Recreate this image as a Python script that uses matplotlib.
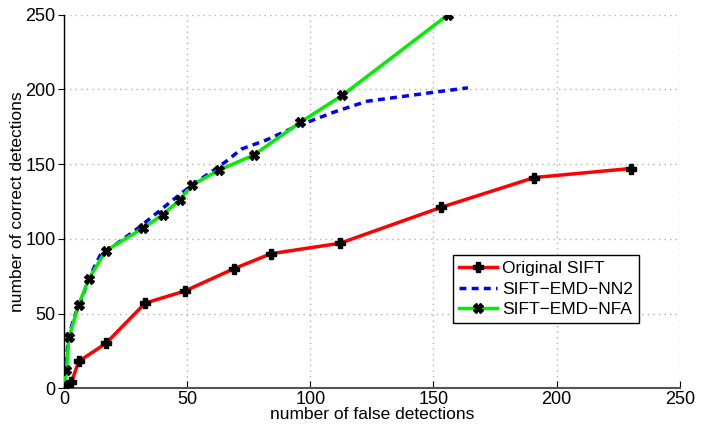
import matplotlib
matplotlib.use("Agg")
import matplotlib.pyplot as plt

plt.rcParams['font.family'] = ['Liberation Sans', 'DejaVu Sans']

red_x = [0, 3, 6, 17, 33, 49, 69, 84, 112, 153, 191, 230]
red_y = [2, 4, 18, 30, 57, 65, 80, 90, 97, 121, 141, 147]

blue_x = [0, 1, 2, 4, 6, 9, 12, 15, 20, 30, 36, 45, 52, 60, 66, 72, 82, 94, 110, 123, 150, 164]
blue_y = [0, 20, 35, 47, 55, 68, 80, 90, 95, 107, 115, 127, 136, 145, 152, 160, 166, 175, 185, 192, 198, 201]

green_x = [0, 1, 2, 6, 10, 17, 32, 40, 47, 52, 63, 77, 96, 113, 156]
green_y = [2, 12, 34, 56, 73, 92, 107, 116, 126, 136, 146, 156, 178, 196, 250]

labels = ['Original SIFT', 'SIFT\u2212EMD\u2212NN2', 'SIFT\u2212EMD\u2212NFA']
xticks = [0, 50, 100, 150, 200, 250]
yticks = [0, 50, 100, 150, 200, 250]

fig = plt.figure(figsize=(7.03, 4.29), dpi=100)
ax = fig.add_axes([0.091, 0.095, 0.876, 0.871])

ax.plot(red_x, red_y, color='#ff0000', lw=2.5, marker='P', ms=6.5,
        mfc='black', mec='black', label=labels[0], zorder=3)
ax.plot(blue_x, blue_y, color='#0000ff', lw=2.5, ls=(0, (2, 1.5)), label=labels[1], zorder=3)
ax.plot(green_x, green_y, color='#00ee00', lw=2.5, marker='X', ms=6.5,
        mfc='black', mec='black', label=labels[2], zorder=4)

ax.set_xlim(0, 250)
ax.set_ylim(0, 250)
ax.set_xticks(xticks)
ax.set_yticks(yticks)
ax.grid(True, color='#b0b0b0', ls=(0, (1, 3)), lw=1)
ax.set_axisbelow(True)
for s in ['top', 'right']:
    ax.spines[s].set_visible(False)
ax.spines['left'].set_linewidth(1)
ax.spines['bottom'].set_linewidth(1.5)
ax.spines['bottom'].set_color('#555555')
ax.tick_params(axis='x', direction='in', length=5, labelsize=13, pad=2)
ax.tick_params(axis='y', direction='out', length=4, labelsize=13, pad=2)
ax.set_xlabel('number of false detections', fontsize=12.5, labelpad=-1)
ax.set_ylabel('number of correct detections', fontsize=12.5, labelpad=0)

leg = ax.legend(loc='upper left', bbox_to_anchor=(0.631, 0.356), fontsize=12.5,
                frameon=True, fancybox=False, edgecolor='black', framealpha=1,
                handlelength=2.2, borderpad=0.35, labelspacing=0.3, handletextpad=0.3,
                borderaxespad=0)
leg.get_frame().set_linewidth(1)

fig.savefig('out.png', dpi=100)
